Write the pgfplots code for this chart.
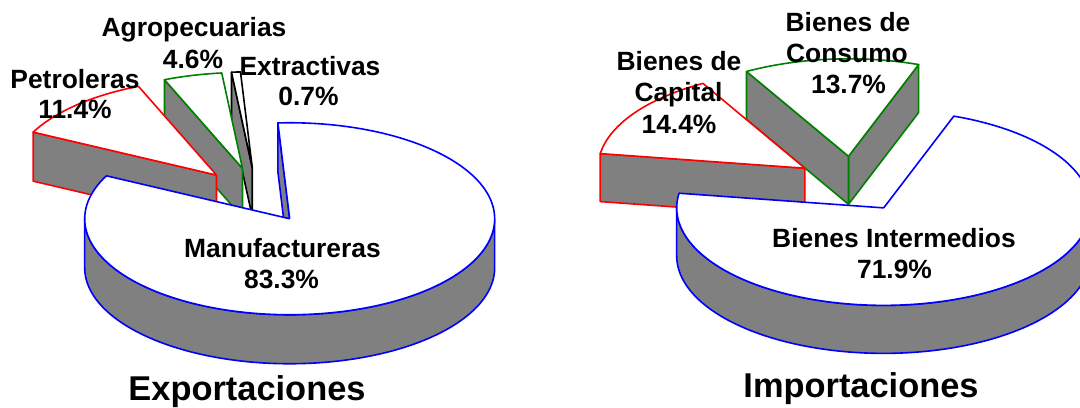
\documentclass[border=0pt]{standalone}
\usepackage{fontspec}
\setmainfont{Liberation Sans}
\usepackage{pgfplots}
\pgfplotsset{compat=1.18}
\definecolor{sgray}{RGB}{128,128,128}
\definecolor{sblue}{RGB}{0,0,255}
\definecolor{sred}{RGB}{255,0,0}
\definecolor{sgreen}{RGB}{0,128,0}

% ---- data (percent) ----
\def\vManuf{83.3}\def\vPetro{11.4}\def\vAgro{4.6}\def\vExtr{0.7}
\def\vInter{71.9}\def\vCapital{14.4}\def\vConsumo{13.7}

\def\lw{0.8pt}
% pie parameters: centre x, centre y, radius x, radius y, depth, explode
\newcommand\setpie[6]{\def\Pcx{#1}\def\Pcy{#2}\def\Prx{#3}\def\Pry{#4}\def\Pd{#5}\def\Pe{#6}}
\newcommand\slicevertex[2]{%
 \pgfmathsetmacro\Pmid{(#1+#2)/2}%
 \pgfmathsetmacro\Vx{\Pcx+\Pe*\Prx*cos(\Pmid)}%
 \pgfmathsetmacro\Vy{\Pcy-\Pe*\Pry*sin(\Pmid)}}
% curved outer side between angles #3..#4 of slice #1..#2
\newcommand\pieside[5]{%
 \slicevertex{#1}{#2}%
 \edef\doplot{\noexpand\addplot[draw=#5,fill=sgray,line width=\lw,line join=round,mark=none,domain=0:4,samples=601]
 ({\Vx+\Prx*cos(#3+(#4-#3)*(min(x,1)-max(min(x,3),2)+2))},
  {\Vy-\Pry*sin(#3+(#4-#3)*(min(x,1)-max(min(x,3),2)+2))+\Pd*(min(max(x-1,0),1)-min(max(x-3,0),1))});}%
 \doplot}
% radial wall at angle #3 of slice #1..#2
\newcommand\piewall[4]{%
 \slicevertex{#1}{#2}%
 \edef\doplot{\noexpand\addplot[draw=#4,fill=sgray,line width=\lw,line join=round,mark=none,domain=0:4,samples=5]
 ({\Vx+\Prx*cos(#3)*(min(x,1)-max(min(x,3),2)+2)},
  {\Vy-\Pry*sin(#3)*(min(x,1)-max(min(x,3),2)+2)+\Pd*(min(max(x-1,0),1)-min(max(x-3,0),1))});}%
 \doplot}
% top face of slice #1..#2
\newcommand\pietop[3]{%
 \slicevertex{#1}{#2}%
 \edef\doplot{\noexpand\addplot[draw=#3,fill=white,line width=\lw,line join=round,mark=none,domain=0:3,samples=451]
 ({\Vx+\Prx*(min(x,1)-max(x-2,0))*cos(#1+(#2-#1)*min(max(x-1,0),1))},
  {\Vy-\Pry*(min(x,1)-max(x-2,0))*sin(#1+(#2-#1)*min(max(x-1,0),1))});}%
 \doplot}

% slice angles (clockwise from start angle)
\pgfmathsetmacro\LmB{93.3+360}
\pgfmathsetmacro\LmA{\LmB-3.6*\vManuf}
\pgfmathsetmacro\LpA{\LmA-3.6*\vPetro}
\pgfmathsetmacro\LaA{\LpA-3.6*\vAgro}
\pgfmathsetmacro\LeA{\LaA-3.6*\vExtr}
\pgfmathsetmacro\RiB{70.2+360}
\pgfmathsetmacro\RiA{\RiB-3.6*\vInter}
\pgfmathsetmacro\RcA{\RiA-3.6*\vCapital}
\pgfmathsetmacro\RsA{\RcA-3.6*\vConsumo}

\tikzset{lab/.style={font=\fontsize{13.2}{15}\selectfont\bfseries,anchor=base,inner sep=0pt},
         ttl/.style={font=\fontsize{17.2}{20}\selectfont\bfseries,anchor=base,inner sep=0pt}}

\begin{document}
\begin{tikzpicture}
\begin{axis}[scale only axis,width=540pt,height=203.5pt,
  xmin=0,xmax=1080,ymin=0,ymax=407,y dir=reverse,hide axis,clip=true]
% ---------- Exportaciones ----------
\setpie{257}{195.5}{205}{96}{49}{0.29}
\piewall{\LeA}{\LaA}{\LaA}{black}
\pietop{\LeA}{\LaA}{black}
\piewall{\LaA}{\LpA}{\LpA}{sgreen}
\pietop{\LaA}{\LpA}{sgreen}
\piewall{\LpA}{\LmA}{\LmA}{sred}
\pietop{\LpA}{\LmA}{sred}
\pieside{\LmA}{\LmB}{180}{360}{sblue}
\piewall{\LmA}{\LmB}{\LmB}{sblue}
\pietop{\LmA}{\LmB}{sblue}
% ---------- Importaciones ----------
\setpie{853.5}{184}{207}{97.5}{48}{0.285}
\piewall{\RsA}{\RcA}{\RsA}{sgreen}
\piewall{\RsA}{\RcA}{\RcA}{sgreen}
\pietop{\RsA}{\RcA}{sgreen}
\piewall{\RcA}{\RiA}{\RiA}{sred}
\pietop{\RcA}{\RiA}{sred}
\pieside{\RiA}{\RiB}{180}{360}{sblue}
\pietop{\RiA}{\RiB}{sblue}
% ---------- labels ----------
\node[lab] at (axis cs:194,36) {Agropecuarias};
\node[lab] at (axis cs:193,68) {4.6\%};
\node[lab] at (axis cs:75,88) {Petroleras};
\node[lab] at (axis cs:75,118.5) {11.4\%};
\node[lab] at (axis cs:310,75) {Extractivas};
\node[lab] at (axis cs:308.5,105) {0.7\%};
\node[lab] at (axis cs:282.5,257) {Manufactureras};
\node[lab] at (axis cs:281.5,288) {83.3\%};
\node[ttl] at (axis cs:247,400) {Exportaciones};
\node[lab] at (axis cs:848,32) {Bienes de};
\node[lab] at (axis cs:847,62) {Consumo};
\node[lab] at (axis cs:848.5,93) {13.7\%};
\node[lab] at (axis cs:679,70) {Bienes de};
\node[lab] at (axis cs:678.5,101) {Capital};
\node[lab] at (axis cs:679,133) {14.4\%};
\node[lab] at (axis cs:894,247) {Bienes Intermedios};
\node[lab] at (axis cs:894.5,278) {71.9\%};
\node[ttl] at (axis cs:861,397) {Importaciones};
\end{axis}
\pgfresetboundingbox
\useasboundingbox (current axis.south west) rectangle (current axis.north east);
\end{tikzpicture}
\end{document}
